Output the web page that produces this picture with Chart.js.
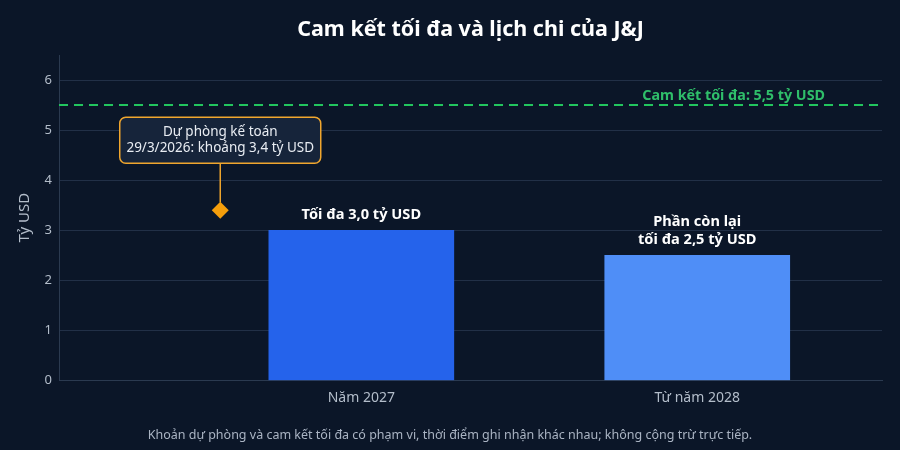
<!DOCTYPE html>
<html>
<head>
<meta charset="utf-8">
<script src="https://cdn.jsdelivr.net/npm/chart.js@4"></script>
<style>
  html, body { margin: 0; padding: 0; background: #0b1628; }
  #wrap { width: 900px; height: 450px; position: relative; }
</style>
</head>
<body>
<div id="wrap"><canvas id="myChart" width="900" height="450"></canvas></div>
<script>
// du lieu
const xPositions = [1, 2];
const categories = ['Năm 2027', 'Từ năm 2028'];
const maxValues = [3.0, 2.5];
const barColors = ['#2563eb', '#4f8ef7'];
const barLabels = [['Tối đa 3,0 tỷ USD'], ['Phần còn lại', 'tối đa 2,5 tỷ USD']];
const reserveX = 0.58;
const reserveValue = 3.4;
const reserveLabel = ['Dự phòng kế toán', '29/3/2026: khoảng 3,4 tỷ USD'];
const capValue = 5.5;
const capLabel = 'Cam kết tối đa: 5,5 tỷ USD';
const yTicks = [0, 1, 2, 3, 4, 5, 6];
const title = 'Cam kết tối đa và lịch chi của J&J';
const footnote = 'Khoản dự phòng và cam kết tối đa có phạm vi, thời điểm ghi nhận khác nhau; không cộng trừ trực tiếp.';

const FONT = "'Noto Sans', 'Open Sans', sans-serif";

const extras = {
    id: 'extras',
    beforeDatasetsDraw(chart) {
        const { ctx, chartArea, scales } = chart;
        const y = scales.y.getPixelForValue(capValue);
        ctx.save();
        ctx.strokeStyle = '#22c55e';
        ctx.lineWidth = 2;
        ctx.setLineDash([9, 6]);
        ctx.beginPath();
        ctx.moveTo(chartArea.left, y);
        ctx.lineTo(chartArea.right, y);
        ctx.stroke();
        ctx.restore();
    },
    afterDatasetsDraw(chart) {
        const { ctx, chartArea, scales } = chart;
        const xs = scales.x, ys = scales.y;
        ctx.save();

        // titulo
        ctx.fillStyle = '#ffffff';
        ctx.font = 'bold 21.5px ' + FONT;
        ctx.textAlign = 'center';
        ctx.textBaseline = 'middle';
        ctx.fillText(title, (chartArea.left + chartArea.right) / 2, 30);

        // nota
        ctx.fillStyle = '#aab4c3';
        ctx.font = '12.5px ' + FONT;
        ctx.fillText(footnote, 450, 435);

        // etiqueta linea
        ctx.fillStyle = '#2fbf6a';
        ctx.font = 'bold 14.3px ' + FONT;
        ctx.textAlign = 'right';
        ctx.fillText(capLabel, chartArea.right - 57, ys.getPixelForValue(capValue) - 9);

        // etiquetas barras
        ctx.fillStyle = '#ffffff';
        ctx.font = 'bold 14.6px ' + FONT;
        ctx.textAlign = 'center';
        xPositions.forEach((xv, i) => {
            const px = xs.getPixelForValue(xv);
            const top = ys.getPixelForValue(maxValues[i]);
            const lines = barLabels[i];
            lines.forEach((t, j) => {
                ctx.fillText(t, px, top - 15.5 - (lines.length - 1 - j) * 18);
            });
        });

        // caja de anotacion
        const dx = xs.getPixelForValue(reserveX);
        const dy = ys.getPixelForValue(reserveValue);
        const bw = 201, bh = 46;
        const bx = dx - bw / 2, by = dy - 93;
        ctx.strokeStyle = '#f0a62e';
        ctx.lineWidth = 1.5;
        ctx.beginPath();
        ctx.moveTo(dx, by + bh);
        ctx.lineTo(dx, dy - 8);
        ctx.stroke();
        ctx.fillStyle = '#16243a';
        ctx.beginPath();
        ctx.roundRect(bx, by, bw, bh, 6);
        ctx.fill();
        ctx.stroke();
        ctx.fillStyle = '#e8ecf2';
        ctx.font = '13.5px ' + FONT;
        ctx.fillText(reserveLabel[0], dx, by + 14.5);
        ctx.fillText(reserveLabel[1], dx, by + 31);
        ctx.restore();
    }
};

const ctx = document.getElementById('myChart').getContext('2d');
new Chart(ctx, {
    type: 'bar',
    data: {
        datasets: [{
            type: 'bar',
            data: xPositions.map((x, i) => ({ x: x, y: maxValues[i] })),
            backgroundColor: barColors,
            barThickness: 185,
            order: 2
        }, {
            type: 'scatter',
            data: [{ x: reserveX, y: reserveValue }],
            pointStyle: 'rectRot',
            pointRadius: 8.5,
            backgroundColor: '#f59e0b',
            borderColor: '#f59e0b',
            borderWidth: 0,
            order: 1
        }]
    },
    options: {
        responsive: false,
        animation: false,
        layout: { padding: { top: 55, right: 18, left: 0, bottom: 0 } },
        plugins: {
            legend: { display: false },
            tooltip: { enabled: false },
            title: { display: false }
        },
        scales: {
            x: {
                type: 'linear',
                min: 0.1,
                max: 2.55,
                offset: false,
                afterBuildTicks: (axis) => { axis.ticks = xPositions.map(v => ({ value: v })); },
                afterFit: (axis) => { axis.height = 69.5; },
                ticks: {
                    callback: (v) => categories[xPositions.indexOf(v)] || '',
                    color: '#b3bdca',
                    font: { family: FONT, size: 14 },
                    padding: 9,
                    maxRotation: 0
                },
                grid: { display: false, drawTicks: false, offset: false },
                border: { display: true, color: '#2b3a50', width: 1 }
            },
            y: {
                min: 0,
                max: 6.5,
                afterBuildTicks: (axis) => { axis.ticks = yTicks.map(v => ({ value: v })); },
                afterFit: (axis) => { axis.width = 59; },
                ticks: {
                    color: '#b3bdca',
                    font: { family: FONT, size: 13 },
                    padding: 7
                },
                title: {
                    display: true,
                    text: 'Tỷ USD',
                    color: '#b3bdca',
                    font: { family: FONT, size: 15 },
                    padding: { top: 16, bottom: 0 }
                },
                grid: { color: '#223047', drawTicks: false, lineWidth: 1 },
                border: { display: true, color: '#2b3a50', width: 1 }
            }
        }
    },
    plugins: [extras]
});
</script>
</body>
</html>
